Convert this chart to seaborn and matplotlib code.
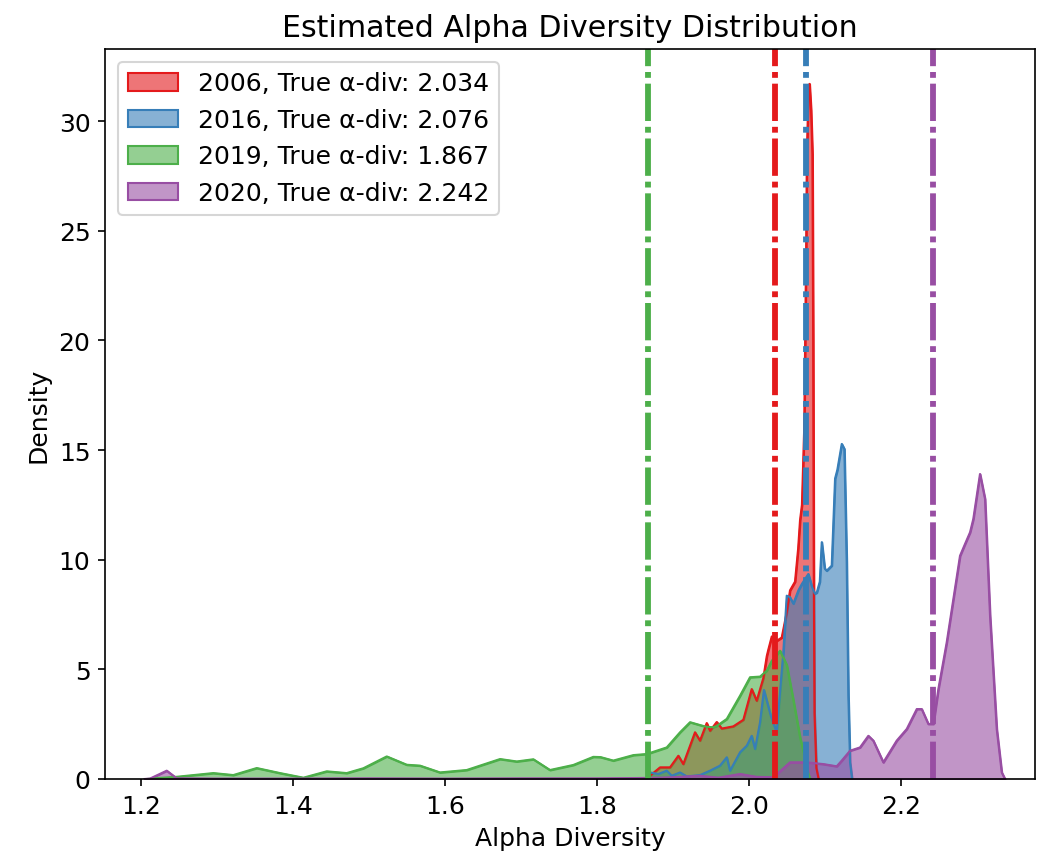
import matplotlib
matplotlib.use("Agg")
import matplotlib.pyplot as plt
import seaborn as sns
import pandas as pd

# Density curves of the bootstrapped alpha-diversity estimates per year
years = ["2006", "2016", "2019", "2020"]
true_alpha = [2.034, 2.076, 1.867, 2.242]

x_2006 = [1.865, 1.8701, 1.8833, 1.8964, 1.9074, 1.9139, 1.9293, 1.9359, 1.9447, 1.9491,
          1.9579, 1.9645, 1.9797, 1.9929, 2.0039, 2.0105, 2.0192, 2.0237, 2.0258, 2.0303,
          2.0368, 2.0434, 2.0500, 2.0543, 2.0609, 2.0650, 2.0675, 2.0700, 2.0730, 2.0755,
          2.0765, 2.0785, 2.0800, 2.0820, 2.0838, 2.0848, 2.0855, 2.0865, 2.0890, 2.0920]
d_2006 = [0.0, 0.15, 0.53, 0.53, 1.06, 0.68, 2.13, 1.75, 2.55, 2.20,
          2.60, 2.30, 2.40, 2.70, 4.10, 3.57, 4.60, 5.60, 5.90, 6.50,
          6.30, 6.45, 7.60, 8.60, 9.00, 10.5, 11.8, 12.5, 16.0, 24.0,
          28.5, 31.2, 31.7, 30.5, 28.5, 20.0, 10.0, 3.0, 0.5, 0.0]

x_2016 = [1.865, 1.8701, 1.8811, 1.8921, 1.8987, 1.9096, 1.9184, 1.9359, 1.9491, 1.9622,
          1.9711, 1.9754, 1.9886, 1.9974, 2.0039, 2.0083, 2.0149, 2.0200, 2.0290, 2.0368,
          2.0455, 2.0500, 2.0540, 2.0587, 2.0653, 2.0700, 2.0784, 2.0829, 2.0870, 2.0895,
          2.0935, 2.0961, 2.1000, 2.1026, 2.1092, 2.1136, 2.1166, 2.1224, 2.1258, 2.1289,
          2.1311, 2.1333, 2.1360]
d_2016 = [0.0, 0.30, 0.23, 0.38, 0.15, 0.30, 0.12, 0.18, 0.38, 0.61,
          0.99, 0.38, 1.22, 1.52, 1.97, 1.37, 2.59, 4.06, 2.89, 2.13,
          5.78, 8.36, 8.30, 8.00, 8.60, 8.90, 9.35, 8.80, 8.45, 8.50,
          9.00, 10.8, 9.60, 9.50, 9.73, 13.7, 14.1, 15.28, 15.05, 9.88,
          3.80, 0.76, 0.0]

x_2019 = [1.208, 1.225, 1.247, 1.2955, 1.3218, 1.3526, 1.3833, 1.414, 1.4447, 1.471,
          1.4929, 1.5237, 1.55, 1.5675, 1.5938, 1.6289, 1.6728, 1.6947, 1.7166, 1.7385,
          1.7692, 1.7955, 1.8049, 1.8218, 1.8482, 1.8658, 1.8921, 1.9096, 1.9228, 1.9359,
          1.9447, 1.9534, 1.9579, 1.9711, 1.9886, 2.0017, 2.0149, 2.0237, 2.0303, 2.0412,
          2.0500, 2.0587, 2.0675, 2.0741, 2.0780, 2.0810]
d_2019 = [0.0, 0.05, 0.10, 0.27, 0.18, 0.50, 0.27, 0.06, 0.35, 0.27,
          0.49, 1.03, 0.65, 0.61, 0.30, 0.41, 0.91, 0.80, 0.90, 0.41,
          0.64, 1.01, 1.00, 0.84, 1.09, 1.14, 1.44, 2.13, 2.59, 2.46,
          2.38, 2.36, 2.42, 2.74, 3.80, 4.64, 4.67, 4.94, 5.39, 5.85,
          5.20, 3.60, 1.90, 0.95, 0.30, 0.0]

x_2020 = [1.205, 1.2122, 1.2342, 1.2474, 1.30, 1.40, 1.50, 1.60, 1.70, 1.80,
          1.87, 1.90, 1.9359, 1.96, 1.9886, 2.01, 2.0324, 2.0543, 2.0763, 2.0982,
          2.1158, 2.1224, 2.1333, 2.1464, 2.1574, 2.1639, 2.1771, 2.1947, 2.2079, 2.2211,
          2.2276, 2.2363, 2.2429, 2.2495, 2.2605, 2.2780, 2.2846, 2.2912, 2.2955, 2.3043,
          2.3109, 2.3175, 2.3263, 2.3329, 2.3372]
d_2020 = [0.0, 0.02, 0.38, 0.03, 0.02, 0.02, 0.03, 0.02, 0.03, 0.03,
          0.05, 0.08, 0.15, 0.06, 0.23, 0.10, 0.08, 0.76, 0.76, 0.68,
          0.58, 0.84, 1.29, 1.44, 1.97, 1.75, 0.76, 1.75, 2.28, 3.19,
          3.19, 2.51, 2.51, 4.10, 6.23, 10.18, 10.72, 11.25, 11.86, 13.91,
          12.77, 7.45, 2.28, 0.30, 0.0]

curves = {
    "2006": (x_2006, d_2006),
    "2016": (x_2016, d_2016),
    "2019": (x_2019, d_2019),
    "2020": (x_2020, d_2020),
}

palette = sns.color_palette("Set1", 5)
colors = [palette[0], palette[1], palette[2], palette[3]]

plt.rcParams.update({
    "font.size": 12,
    "axes.titlesize": 14.4,
    "axes.labelsize": 12,
    "xtick.labelsize": 12,
    "ytick.labelsize": 12,
    "legend.fontsize": 12,
})

fig = plt.figure(figsize=(6.92, 5.7133), dpi=150)
ax = fig.add_axes([105 / 1038, 1 - 780 / 857, 930 / 1038, 730 / 857])

for year, alpha_true, color in zip(years, true_alpha, colors):
    xs, ds = curves[year]
    df = pd.DataFrame({"Alpha Diversity": xs, "Density": ds})
    ax.fill_between(df["Alpha Diversity"], df["Density"],
                    facecolor=(*color, 0.6), edgecolor=color, linewidth=1.0,
                    label=f"{year}, True \u03b1-div: {alpha_true:.3f}")
    sns.lineplot(data=df, x="Alpha Diversity", y="Density", color=color,
                 linewidth=1.0, ax=ax, legend=False)

for alpha_true, color in zip(true_alpha, colors):
    ax.axvline(alpha_true, color=color, linestyle=(0, (6.4, 1.0, 1.0, 1.0)),
               linewidth=2.8)

ax.set_xlim(1.153, 2.3767)
ax.set_ylim(0, 33.29)
ax.set_xticks([1.2, 1.4, 1.6, 1.8, 2.0, 2.2])
ax.set_yticks([0, 5, 10, 15, 20, 25, 30])
ax.set_xlabel("Alpha Diversity")
ax.set_ylabel("Density")
ax.set_title("Estimated Alpha Diversity Distribution")
ax.legend(loc="upper left")

fig.savefig("out.png", dpi=150)
